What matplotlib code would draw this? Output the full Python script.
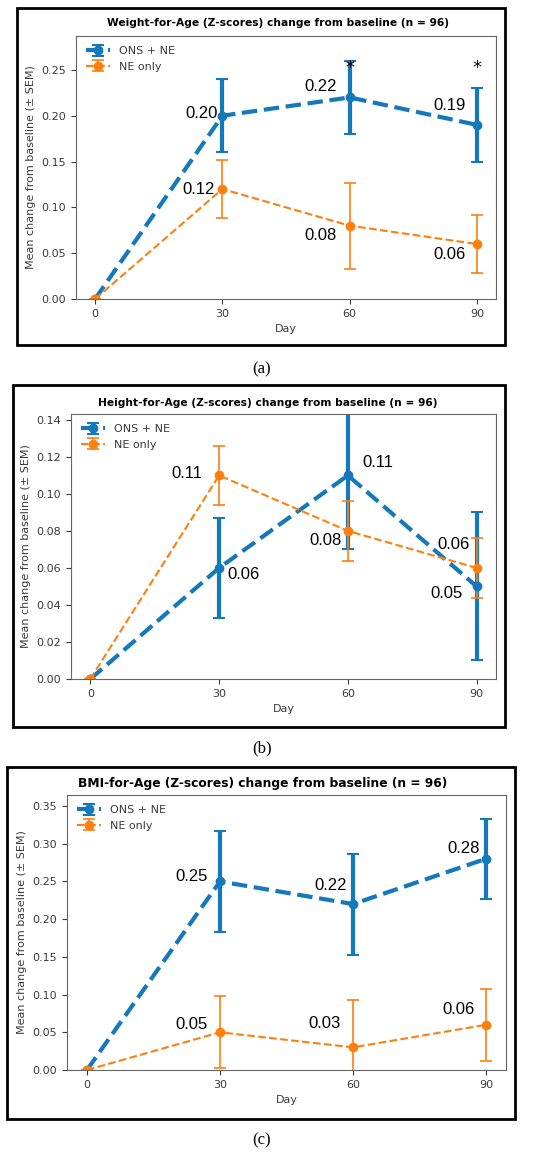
import matplotlib
matplotlib.use("Agg")

import matplotlib.pyplot as plt
from matplotlib.patches import Rectangle

days = [0, 30, 60, 90]

# (a) weight-for-age
wfa_ons = [0, 0.20, 0.22, 0.19]
wfa_ons_err = [0, 0.04, 0.04, 0.04]
wfa_ne = [0, 0.12, 0.08, 0.06]
wfa_ne_err = [0, 0.032, 0.047, 0.032]
wfa_stars = [60, 90]

# (b) height-for-age
hfa_ons = [0, 0.06, 0.11, 0.05]
hfa_ons_err = [0, 0.027, 0.04, 0.04]
hfa_ne = [0, 0.11, 0.08, 0.06]
hfa_ne_err = [0, 0.016, 0.016, 0.016]

# (c) BMI-for-age
bfa_ons = [0, 0.25, 0.22, 0.28]
bfa_ons_err = [0, 0.067, 0.067, 0.053]
bfa_ne = [0, 0.05, 0.03, 0.06]
bfa_ne_err = [0, 0.048, 0.063, 0.048]

BLUE = "#1478bc"
ORANGE = "#ff7f0e"
GREY = "#3a3a3a"

W, H = 550, 1156
fig = plt.figure(figsize=(W / 100, H / 100), dpi=100)


def frac(x0, y0, x1, y1):
    return [x0 / W, 1 - y1 / H, (x1 - x0) / W, (y1 - y0) / H]


def panel(axbox, outer, title, title_xy, title_size, ons, ons_err, ne, ne_err,
          ylim, yticks, labels, caption, cap_y, stars=()):
    ob = frac(*outer)
    fig.patches.append(Rectangle((ob[0], ob[1]), ob[2], ob[3], transform=fig.transFigure,
                                 fill=False, edgecolor="black", linewidth=2))
    ax = fig.add_axes(frac(*axbox))
    ax.errorbar(days, ons, yerr=ons_err, color=BLUE, linestyle="--", linewidth=3,
                marker="o", markersize=6, elinewidth=3, capsize=4, capthick=1.5,
                label="ONS + NE")
    ax.errorbar(days, ne, yerr=ne_err, color=ORANGE, linestyle="--", linewidth=1.5,
                marker="o", markersize=6, elinewidth=1.2, capsize=4, capthick=1.2,
                label="NE only")
    ax.set_ylim(*ylim)
    ax.set_yticks(yticks)
    ax.set_xticks(days)
    ax.tick_params(labelsize=8, colors=GREY, length=3.5)
    for s in ax.spines.values():
        s.set_color("#666666")
    ax.set_xlabel("Day", fontsize=8, color=GREY)
    ax.set_ylabel("Mean change from baseline (± SEM)", fontsize=8, color=GREY)
    ax.legend(loc="upper left", frameon=False, fontsize=8, labelcolor=GREY,
              handlelength=2.2, borderaxespad=0.5)
    for (x, y, txt, dx, dy, ha) in labels:
        ax.annotate(txt, (x, y), xytext=(dx, dy), textcoords="offset pixels",
                    ha=ha, va="center", fontsize=12, family="Liberation Sans")
    for x in stars:
        ax.text(x, 0.252, "*", ha="center", va="center", fontsize=13)
    fig.text(title_xy[0] / W, 1 - title_xy[1] / H, title, ha="center", va="center",
             fontsize=title_size, fontweight="bold")
    fig.text(262 / W, 1 - cap_y / H, caption, ha="center", va="center",
             fontsize=12, family="Liberation Serif")
    return ax


panel((76, 36, 496, 299), (17, 8, 505, 345),
      "Weight-for-Age (Z-scores) change from baseline (n = 96)", (278, 23), 7.7,
      wfa_ons, wfa_ons_err, wfa_ne, wfa_ne_err, (0, 0.287),
      [0, 0.05, 0.10, 0.15, 0.20, 0.25],
      [(30, wfa_ons[1], "0.20", -5, 2, "right"),
       (30, wfa_ne[1], "0.12", -8, 0, "right"),
       (60, wfa_ons[2], "0.22", -13, 11, "right"),
       (60, wfa_ne[2], "0.08", -13, -10, "right"),
       (90, wfa_ons[3], "0.19", -11, 19, "right"),
       (90, wfa_ne[3], "0.06", -11, -10, "right")],
      "(a)", 369, stars=wfa_stars)

panel((71, 414, 496, 679), (13, 385, 505, 727),
      "Height-for-Age (Z-scores) change from baseline (n = 96)", (268, 403), 7.7,
      hfa_ons, hfa_ons_err, hfa_ne, hfa_ne_err, (0, 0.1432),
      [0, 0.02, 0.04, 0.06, 0.08, 0.10, 0.12, 0.14],
      [(30, hfa_ons[1], "0.06", 8, -7, "left"),
       (30, hfa_ne[1], "0.11", -17, 2, "right"),
       (60, hfa_ons[2], "0.11", 14, 13, "left"),
       (60, hfa_ne[2], "0.08", -6, -10, "right"),
       (90, hfa_ne[3], "0.06", -7, 23, "right"),
       (90, hfa_ons[3], "0.05", -14, -7, "right")],
      "(b)", 748)

panel((67, 795, 506, 1070), (7, 767, 515, 1119),
      "BMI-for-Age (Z-scores) change from baseline (n = 96)", (263, 783), 8.8,
      bfa_ons, bfa_ons_err, bfa_ne, bfa_ne_err, (0, 0.3646),
      [0, 0.05, 0.10, 0.15, 0.20, 0.25, 0.30, 0.35],
      [(30, bfa_ons[1], "0.25", -12, 5, "right"),
       (30, bfa_ne[1], "0.05", -12, 8, "right"),
       (60, bfa_ons[2], "0.22", -6, 19, "right"),
       (60, bfa_ne[2], "0.03", -12, 24, "right"),
       (90, bfa_ons[3], "0.28", -6, 10, "right"),
       (90, bfa_ne[3], "0.06", -11, 15, "right")],
      "(c)", 1140)

fig.savefig("out.png", dpi=100)
plt.close(fig)
